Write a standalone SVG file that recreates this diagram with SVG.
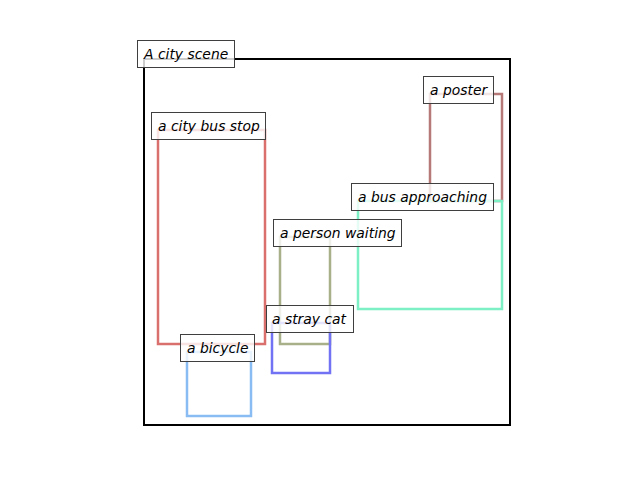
<svg xmlns="http://www.w3.org/2000/svg" width="640" height="480" viewBox="0 0 640 480">
<style>
.box{fill:none;stroke-width:2.5}
.lb{fill:#ffffff;fill-opacity:0.8;stroke:#3f3f3f;stroke-width:1}
.t{font-family:"DejaVu Sans",sans-serif;font-style:oblique;font-size:13.9px;fill:#000}
</style>
<rect width="640" height="480" fill="#fff"/>
<g id="scene">
<rect x="144" y="59" width="366" height="366" fill="none" stroke="#000" stroke-width="2"/>
</g>
<g id="bus_stop"><rect class="box" x="158" y="130" width="107" height="214" stroke="#da706e"/></g>
<g id="poster"><rect class="box" x="430" y="94" width="72" height="107" stroke="#b77878"/></g>
<g id="bus"><rect class="box" x="358" y="201" width="144" height="108" stroke="#7ef0c6"/></g>
<g id="person"><rect class="box" x="280" y="237" width="50" height="107" stroke="#a8b08a"/></g>
<g id="cat"><rect class="box" x="272" y="323" width="58" height="50" stroke="#7272f4"/></g>
<g id="bicycle"><rect class="box" x="187" y="352" width="64" height="64" stroke="#8abcf4"/></g>
<g id="labels">
<g id="l_scene"><rect class="lb" x="137.5" y="40.5" width="97" height="27"/><text class="t" x="144" y="59">A city scene</text></g>
<g id="l_bus_stop"><rect class="lb" x="151.5" y="112.5" width="114" height="27"/><text class="t" x="158" y="131">a city bus stop</text></g>
<g id="l_poster"><rect class="lb" x="423.5" y="76.5" width="70" height="27"/><text class="t" x="430" y="95">a poster</text></g>
<g id="l_bus"><rect class="lb" x="351.5" y="183.5" width="142" height="27"/><text class="t" x="358" y="202">a bus approaching</text></g>
<g id="l_person"><rect class="lb" x="273.5" y="219.5" width="128" height="27"/><text class="t" x="280" y="238">a person waiting</text></g>
<g id="l_cat"><rect class="lb" x="266.5" y="305.5" width="87" height="27"/><text class="t" x="272" y="324">a stray cat</text></g>
<g id="l_bicycle"><rect class="lb" x="180.5" y="334.5" width="74" height="27"/><text class="t" x="187" y="353">a bicycle</text></g>
</g>
</svg>
